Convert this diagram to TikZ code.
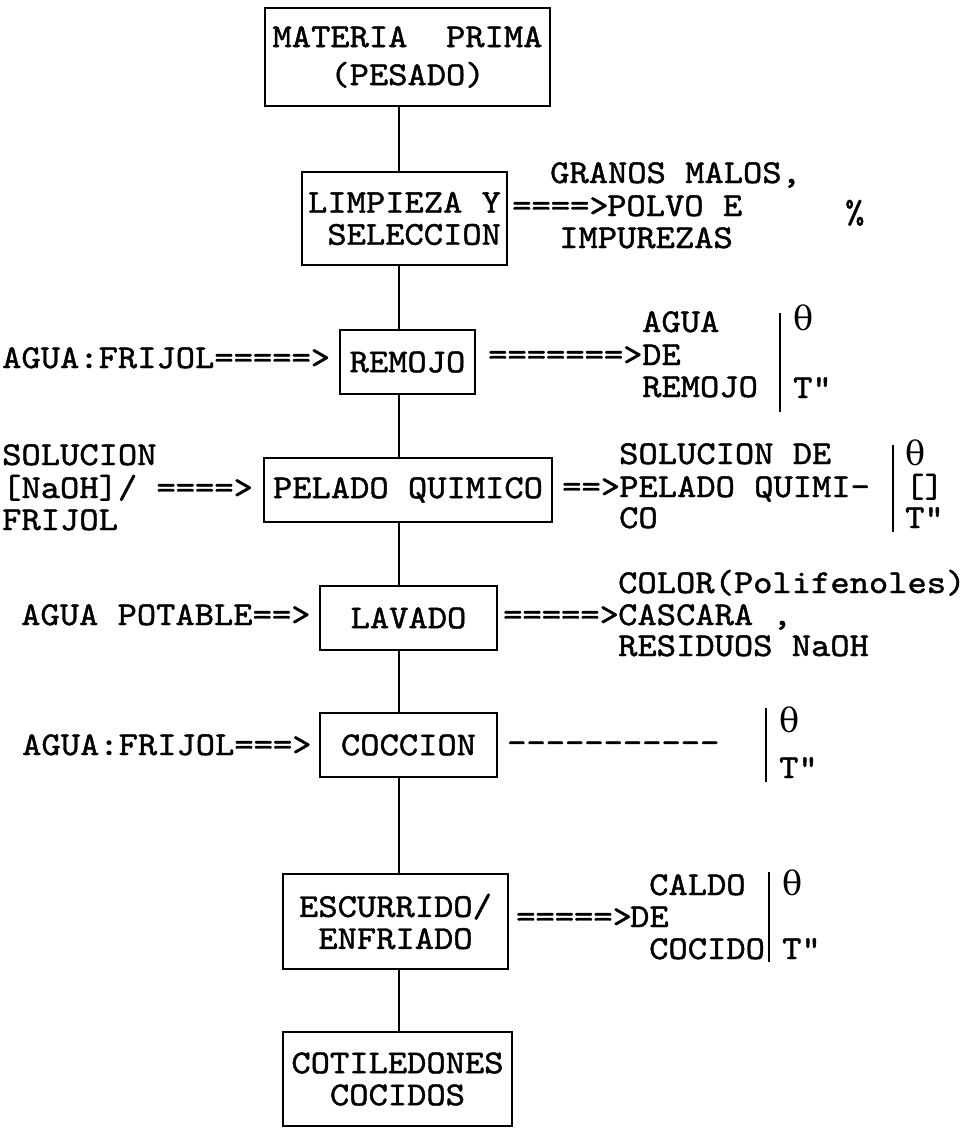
\documentclass[tikz,border=0pt]{standalone}
\usepackage{fontspec}
% typewriter face, slightly widened and darkened like struck type
\newfontfamily\tw{lmmono10-regular.otf}[FakeStretch=1.1, FakeBold=1.3]
\newfontfamily\grk{DejaVu Serif}
\begin{document}
\begin{tikzpicture}[x=1pt,y=-1pt,
  every node/.style={font=\tw\fontsize{33.4}{32}\selectfont, inner sep=0pt},
  stage/.style={draw, line width=1.5pt, align=center},
  txt/.style={anchor=base west},
  rule/.style={line width=1.5pt}]
\useasboundingbox (0,0) rectangle (971,1128);
\fill[white] (0,0) rectangle (971,1128);

% main column of the process
\coordinate (colx) at (399,0);

\node[stage, minimum width=285pt, minimum height=98pt,
      font=\tw\fontsize{33.4}{38}\selectfont] (b1) at (407.5,57) {MATERIA~~PRIMA\\(PESADO)};
\node[stage, minimum width=205pt, minimum height=93pt] (b2) at (404.5,218.5) {LIMPIEZA Y\\~SELECCION};
\node[stage, minimum width=135pt, minimum height=64pt] (b3) at (407.5,362) {REMOJO};
\node[stage, minimum width=288pt, minimum height=64pt] (b4) at (408,490) {PELADO QUIMICO};
\node[stage, minimum width=177pt, minimum height=64pt] (b5) at (408.5,618) {LAVADO};
\node[stage, minimum width=177pt, minimum height=64pt] (b6) at (408.5,745) {COCCION};
\node[stage, minimum width=225pt, minimum height=95pt] (b7) at (395.5,921.5) {ESCURRIDO/\\ENFRIADO};
\node[stage, minimum width=229pt, minimum height=94pt] (b8) at (397.5,1079) {COTILEDONES\\COCIDOS};

\foreach \a/\b in {b1/b2,b2/b3,b3/b4,b4/b5,b5/b6,b6/b7,b7/b8}
  \draw[rule] (\a.south -| colx) -- (\b.north -| colx);

% limpieza y seleccion
\node[txt] (l2arr) at (512,216) {====>};
\node[txt] (l2a) at (550,183) {GRANOS MALOS,};
\node[txt] (l2b) at (607,216) {POLVO E};
\node[txt] (l2c) at (559,248) {IMPUREZAS};
\node[txt] (l2p) at (845,223) {\%};

% remojo
\node[txt] (in3) at (2,368) {AGUA:FRIJOL=====>};
\node[txt] (o3arr) at (488,365) {=======>};
\node[txt] (o3a) at (642,332) {AGUA};
\node[txt] (o3b) at (642,365) {DE};
\node[txt] (o3c) at (642,397) {REMOJO};
\coordinate (bar3t) at (780,313);
\coordinate (bar3b) at (780,412);
\draw[rule] (bar3t) -- (bar3b);
\node[txt] (th3) at (793,330) {\grk θ};
\node[txt] (tt3) at (793,398) {T"};

% pelado quimico
\node[txt] (in4a) at (2,465) {SOLUCION};
\node[txt] (in4b) at (2,498) {[NaOH]/ ====>};
\node[txt] (in4c) at (2,530) {FRIJOL};
\node[txt] (o4arr) at (562,497) {==>};
\node[txt] (o4a) at (619,464) {SOLUCION DE};
\node[txt] (o4b) at (619,497) {PELADO QUIMI-};
\node[txt] (o4c) at (619,528) {CO};
\coordinate (bar4t) at (893,445);
\coordinate (bar4b) at (893,532);
\draw[rule] (bar4t) -- (bar4b);
\node[txt] (th4) at (905,465) {\grk θ};
\node[txt] (cc4) at (905,497) {[]};
\node[txt] (tt4) at (905,528) {T"};

% lavado
\node[txt] (in5) at (21,625) {AGUA POTABLE==>};
\node[txt] (o5arr) at (503,625) {=====>};
\node[txt] (o5a) at (618,593) {COLOR(Polifenoles)};
\node[txt] (o5b) at (618,625) {CASCARA ,};
\node[txt] (o5c) at (618,656) {RESIDUOS NaOH};

% coccion
\node[txt] (in6) at (22,755) {AGUA:FRIJOL===>};
\node[txt] (o6dash) at (507,753) {-{}-{}-{}-{}-{}-{}-{}-{}-{}-{}-};
\coordinate (bar6t) at (766,708);
\coordinate (bar6b) at (766,782);
\draw[rule] (bar6t) -- (bar6b);
\node[txt] (th6) at (779,732) {\grk θ};
\node[txt] (tt6) at (779,778) {T"};

% escurrido / enfriado
\node[txt] (o7arr) at (516,927) {=====>};
\node[txt] (o7a) at (649,895) {CALDO};
\node[txt] (o7b) at (630,927) {DE};
\node[txt] (o7c) at (649,959) {COCIDO};
\coordinate (bar7t) at (769,872);
\coordinate (bar7b) at (769,962);
\draw[rule] (bar7t) -- (bar7b);
\node[txt] (th7) at (782,895) {\grk θ};
\node[txt] (tt7) at (782,959) {T"};
\end{tikzpicture}
\end{document}
